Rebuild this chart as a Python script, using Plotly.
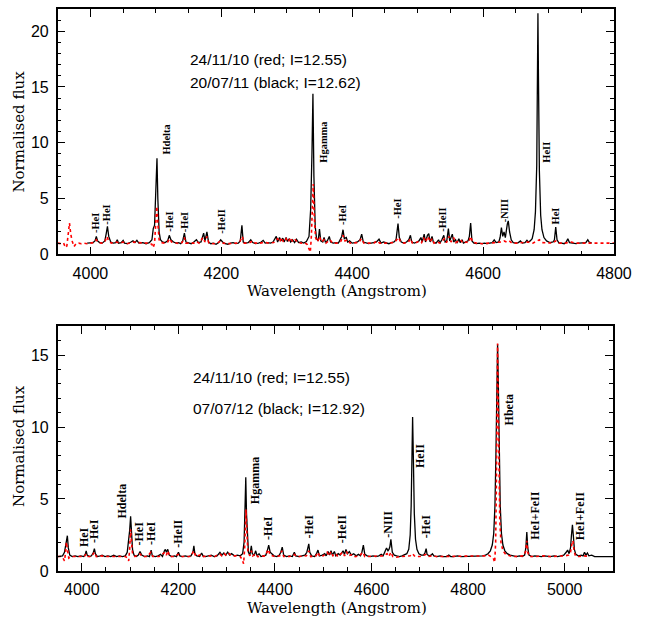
import plotly.graph_objects as go

# ---------------------------------------------------------------------------
# Spectra: (wavelength [A], normalised flux) pairs
# ---------------------------------------------------------------------------

# 24/11/10 spectrum (red), upper panel normalisation
red_top = [
    (3950, 1.0), (3955, 0.95), (3959, 1.0), (3962, 0.6), (3964, 0.75), (3966, 1.6),
    (3968, 2.8), (3970, 1.8), (3972, 1.2), (3975, 0.7), (3978, 0.95), (3982, 1.0),
    (3986, 0.95), (3990, 1.0), (3995, 0.95), (4000, 1.0), (4005, 1.05), (4009, 1.3),
    (4012, 1.05), (4017, 1.0), (4022, 1.1), (4025, 1.6), (4028, 1.2), (4032, 1.0),
    (4040, 1.1), (4045, 1.0), (4050, 1.1), (4056, 0.95), (4062, 1.05), (4067, 1.1),
    (4072, 1.05), (4078, 1.0), (4085, 1.0), (4090, 1.0), (4094, 0.9), (4096, 0.6),
    (4098, 1.0), (4100, 3.0), (4101.5, 4.3), (4103, 2.8), (4105, 1.3), (4108, 1.05),
    (4113, 1.0), (4118, 1.1), (4121, 1.4), (4124, 1.1), (4130, 1.0), (4136, 0.95),
    (4140, 1.05), (4143.5, 1.5), (4146, 1.0), (4152, 1.0), (4158, 1.0), (4162, 1.15),
    (4166, 1.0), (4172, 1.5), (4175, 1.1), (4178, 1.6), (4181, 1.0), (4188, 0.95),
    (4194, 1.0), (4199, 1.2), (4203, 1.0), (4210, 0.95), (4217, 1.0), (4224, 1.0),
    (4228, 1.1), (4232, 1.6), (4235, 1.0), (4242, 1.0), (4248, 1.2), (4252, 1.0),
    (4260, 1.0), (4266, 1.1), (4272, 1.0), (4280, 1.05), (4286, 1.4), (4289, 1.1),
    (4292, 1.5), (4295, 1.1), (4299, 1.4), (4302, 1.1), (4306, 1.5), (4309, 1.1),
    (4313, 1.3), (4317, 1.05), (4322, 1.0), (4327, 1.05), (4331, 0.9), (4334, 0.4),
    (4336, 0.2), (4337.5, 1.5), (4339, 4.5), (4340.5, 6.3), (4342, 3.5), (4344, 1.5),
    (4347, 1.1), (4350, 1.6), (4353, 1.1), (4357, 1.3), (4360, 1.0), (4366, 1.3),
    (4370, 1.0), (4378, 1.0), (4383, 1.2), (4386, 1.7), (4389, 1.2), (4393, 1.3),
    (4397, 1.0), (4404, 1.0), (4410, 1.05), (4414, 1.4), (4418, 1.0), (4426, 1.0),
    (4433, 1.0), (4438, 1.2), (4442, 1.0), (4450, 1.0), (4458, 1.0), (4464, 1.05),
    (4468, 1.3), (4471, 1.5), (4474, 1.1), (4480, 1.0), (4486, 1.1), (4489, 1.4),
    (4492, 1.0), (4498, 1.05), (4503, 1.2), (4506, 1.05), (4509, 1.5), (4512, 1.1),
    (4516, 1.6), (4519, 1.1), (4522, 1.4), (4525, 1.0), (4530, 1.1), (4534, 1.0),
    (4538, 1.2), (4541, 1.4), (4544, 1.05), (4548, 1.6), (4551, 1.1), (4555, 1.5),
    (4558, 1.05), (4562, 1.2), (4566, 1.3), (4569, 1.0), (4574, 1.1), (4578, 1.05),
    (4581, 1.6), (4584, 1.1), (4590, 1.0), (4600, 0.95), (4610, 1.0), (4618, 1.0),
    (4622, 1.05), (4628, 1.1), (4632, 1.2), (4636, 1.1), (4640, 1.2), (4644, 1.0),
    (4652, 1.0), (4660, 1.05), (4668, 1.1), (4676, 1.0), (4683, 1.2), (4686, 1.3),
    (4690, 1.05), (4698, 1.0), (4706, 1.0), (4711, 1.2), (4715, 1.0), (4725, 1.0),
    (4735, 1.1), (4740, 1.0), (4750, 1.0), (4760, 1.05), (4770, 1.0), (4780, 1.0),
    (4790, 1.0), (4800, 1.0),
]

# 20/07/11 spectrum (black), upper panel
black_top = [
    (3995, 1.0), (4000, 1.02), (4004, 1.05), (4007, 1.2), (4009, 1.6), (4011, 1.2),
    (4014, 1.05), (4018, 1.0), (4022, 1.2), (4024, 1.8), (4026, 2.5), (4028, 1.6),
    (4031, 1.1), (4035, 1.0), (4039, 1.05), (4041, 1.3), (4043, 1.0), (4047, 1.05),
    (4050, 1.25), (4052, 1.0), (4057, 0.95), (4062, 1.1), (4065, 1.2), (4068, 1.05),
    (4071, 1.25), (4074, 1.0), (4080, 1.05), (4085, 0.95), (4090, 1.05), (4094, 1.3),
    (4096, 2.3), (4098, 2.6), (4100, 5.5), (4101.7, 8.6), (4103, 5.0), (4105, 2.0),
    (4107, 1.3), (4110, 1.1), (4114, 1.05), (4118, 1.2), (4120.5, 1.7), (4123, 1.3),
    (4127, 1.1), (4131, 1.0), (4135, 1.05), (4138, 0.95), (4141, 1.2), (4143.6, 1.9),
    (4146, 1.1), (4150, 1.0), (4154, 0.95), (4158, 1.1), (4162, 1.3), (4165, 1.05),
    (4169, 1.1), (4173, 1.9), (4175, 1.2), (4178, 2.0), (4180.5, 1.1), (4184, 0.95),
    (4188, 1.0), (4192, 0.9), (4196, 1.05), (4199, 1.3), (4202, 1.1), (4206, 0.95),
    (4210, 0.9), (4214, 1.0), (4218, 1.05), (4222, 0.95), (4226, 1.0), (4229, 1.2),
    (4231.5, 2.6), (4233.5, 1.1), (4237, 1.0), (4241, 1.05), (4245, 1.3), (4248, 1.05),
    (4252, 0.95), (4257, 1.0), (4261, 1.1), (4264, 1.25), (4267, 1.0), (4271, 1.05),
    (4275, 1.0), (4279, 1.1), (4284, 1.6), (4286, 1.1), (4289, 1.5), (4291, 1.2),
    (4294, 1.45), (4296, 1.1), (4299, 1.5), (4301, 1.15), (4304, 1.4), (4306, 1.1),
    (4309, 1.3), (4312, 1.05), (4315, 1.35), (4318, 1.05), (4322, 1.1), (4326, 1.0),
    (4330, 1.15), (4334, 1.6), (4336.5, 4.0), (4338.5, 9.0), (4340, 14.4), (4341.5, 7.0),
    (4343.5, 2.5), (4345.5, 1.4), (4348, 1.2), (4350, 2.25), (4352, 1.2), (4355, 1.1),
    (4357, 1.5), (4359, 1.1), (4362, 1.2), (4365, 1.6), (4367, 1.1), (4371, 1.0),
    (4375, 1.05), (4379, 1.0), (4382, 1.3), (4384, 1.6), (4386, 2.2), (4388, 1.4),
    (4391, 1.5), (4393, 1.1), (4396, 1.2), (4400, 1.0), (4404, 1.05), (4408, 1.1),
    (4412, 1.3), (4414.5, 1.8), (4417, 1.1), (4421, 1.0), (4425, 0.95), (4429, 1.0),
    (4433, 1.05), (4437, 1.1), (4441, 1.35), (4444, 1.0), (4448, 1.1), (4452, 1.0),
    (4456, 0.95), (4460, 1.05), (4464, 1.1), (4467, 1.3), (4468.5, 2.0), (4470, 2.75),
    (4472, 1.5), (4475, 1.1), (4479, 1.0), (4483, 1.1), (4486.5, 1.3), (4489, 1.7),
    (4491, 1.1), (4495, 1.0), (4499, 1.1), (4502, 1.2), (4505, 1.5), (4507, 1.1),
    (4510, 1.8), (4512, 1.1), (4515, 1.7), (4517, 1.85), (4519, 1.1), (4522, 1.6),
    (4524, 1.1), (4528, 1.0), (4532, 1.3), (4534, 1.0), (4537, 1.3), (4540, 1.7),
    (4542, 1.1), (4544.5, 1.2), (4547, 2.3), (4549, 1.2), (4551, 1.5), (4553, 1.8),
    (4555, 1.1), (4558, 1.3), (4560, 1.0), (4563, 1.4), (4565, 1.05), (4568, 1.3),
    (4570, 1.0), (4574, 1.1), (4577, 1.2), (4579, 1.6), (4581, 2.8), (4583, 1.2),
    (4586, 1.0), (4590, 0.95), (4594, 1.0), (4598, 0.95), (4602, 1.0), (4606, 0.95),
    (4610, 1.0), (4614, 1.05), (4617, 1.3), (4620, 1.05), (4624, 1.1), (4626, 1.5),
    (4628, 2.4), (4630, 1.6), (4632, 2.0), (4634, 1.5), (4637, 2.7), (4638.5, 3.0),
    (4640.5, 2.0), (4643, 1.3), (4646, 1.05), (4650, 1.0), (4654, 1.05), (4657, 1.2),
    (4660, 1.0), (4664, 1.05), (4667, 1.25), (4669, 1.1), (4672, 1.2), (4675, 1.4),
    (4678, 2.2), (4680, 3.8), (4682, 8.0), (4683, 16.0), (4683.8, 21.6), (4684.6, 16.0),
    (4686, 7.5), (4688, 3.5), (4690, 2.2), (4693, 1.5), (4697, 1.2), (4702, 1.05),
    (4707, 1.1), (4709, 1.3), (4711, 2.45), (4713, 1.3), (4716, 1.0), (4720, 1.0),
    (4724, 0.95), (4727, 1.1), (4729.5, 1.4), (4732, 1.05), (4737, 1.0), (4742, 0.95),
    (4747, 1.0), (4752, 1.0), (4757, 1.05), (4760, 1.3), (4762, 1.1), (4766, 1.0),
]

# 24/11/10 spectrum (red), lower panel normalisation
red_bottom = [
    (3950, 1.0), (3956, 1.0), (3961, 0.9), (3964, 0.7), (3966, 1.2), (3968, 2.0),
    (3970, 1.5), (3973, 0.9), (3977, 1.0), (3985, 1.0), (3995, 1.0), (4005, 1.0),
    (4009, 1.2), (4013, 1.0), (4020, 1.0), (4026, 1.3), (4030, 1.0), (4040, 1.05),
    (4050, 1.0), (4060, 1.0), (4070, 1.05), (4080, 1.0), (4090, 1.0), (4095, 0.9),
    (4097, 0.7), (4099, 1.5), (4101, 2.9), (4103, 1.9), (4105, 1.2), (4110, 1.0),
    (4120, 1.2), (4125, 1.0), (4135, 1.0), (4143, 1.3), (4147, 1.0), (4160, 1.0),
    (4172, 1.3), (4175, 1.1), (4178, 1.4), (4182, 1.0), (4190, 1.0), (4200, 1.15),
    (4205, 1.0), (4215, 1.0), (4225, 1.0), (4232, 1.4), (4236, 1.0), (4248, 1.15),
    (4252, 1.0), (4265, 1.05), (4275, 1.0), (4285, 1.2), (4290, 1.05), (4295, 1.2),
    (4300, 1.05), (4305, 1.2), (4310, 1.05), (4320, 1.05), (4328, 1.0), (4332, 0.8),
    (4335, 0.5), (4337, 1.5), (4339, 3.5), (4340, 4.27), (4342, 2.5), (4344, 1.3),
    (4348, 1.05), (4351, 1.4), (4354, 1.05), (4360, 1.2), (4364, 1.0), (4372, 1.0),
    (4380, 1.05), (4386, 1.5), (4390, 1.1), (4400, 1.0), (4410, 1.05), (4414, 1.4),
    (4418, 1.0), (4430, 1.0), (4440, 1.15), (4445, 1.0), (4455, 1.0), (4465, 1.05),
    (4470, 1.4), (4474, 1.0), (4485, 1.05), (4489, 1.3), (4493, 1.0), (4500, 1.05),
    (4508, 1.3), (4512, 1.05), (4516, 1.35), (4520, 1.05), (4526, 1.2), (4530, 1.0),
    (4540, 1.3), (4544, 1.05), (4548, 1.35), (4552, 1.05), (4560, 1.15), (4566, 1.0),
    (4575, 1.05), (4582, 1.3), (4586, 1.0), (4595, 1.0), (4605, 1.0), (4615, 1.0),
    (4622, 1.05), (4628, 1.1), (4632, 1.2), (4636, 1.0), (4640, 1.3), (4644, 1.0),
    (4652, 0.95), (4660, 1.0), (4670, 1.0), (4680, 1.05), (4685, 1.2), (4690, 1.0),
    (4700, 1.0), (4712, 1.15), (4716, 1.0), (4725, 1.05), (4735, 1.0), (4745, 1.0),
    (4755, 1.05), (4765, 1.0), (4775, 1.0), (4785, 1.05), (4795, 1.0), (4805, 1.0),
    (4815, 1.05), (4825, 1.0), (4835, 1.05), (4842, 1.1), (4848, 1.0), (4852, 0.9),
    (4855, 0.6), (4857, 2.0), (4858.5, 6.0), (4860, 12.0), (4861, 15.8), (4862, 12.5),
    (4863.5, 7.0), (4865.5, 3.5), (4868, 2.0), (4872, 1.4), (4878, 1.15), (4886, 1.05),
    (4895, 1.0), (4905, 1.0), (4915, 1.05), (4919.5, 1.4), (4921.5, 2.1), (4923.5, 1.3),
    (4927, 1.0), (4940, 1.0), (4955, 1.05), (4970, 1.0), (4985, 1.0), (5000, 1.05),
    (5008, 1.1), (5012, 1.3), (5015, 1.9), (5017, 2.1), (5019, 1.5), (5022, 1.05),
    (5030, 1.0), (5040, 1.05), (5050, 1.0),
]

# 07/07/12 spectrum (black), lower panel
black_bottom = [
    (3950, 1.0), (3955, 1.0), (3960, 1.05), (3964, 1.3), (3967, 1.9), (3970, 2.45),
    (3972, 1.6), (3975, 1.1), (3980, 1.0), (3986, 1.05), (3992, 1.0), (3998, 1.05),
    (4004, 1.0), (4007, 1.15), (4009, 1.4), (4011, 1.1), (4016, 1.0), (4020, 1.05),
    (4024, 1.3), (4026, 1.55), (4028, 1.2), (4032, 1.0), (4038, 1.05), (4042, 1.1),
    (4048, 1.0), (4054, 1.05), (4060, 1.0), (4066, 1.1), (4072, 1.0), (4078, 1.05),
    (4084, 1.0), (4090, 1.05), (4094, 1.3), (4097, 2.0), (4099, 2.8), (4101, 3.8),
    (4103, 2.6), (4105, 1.5), (4108, 1.1), (4113, 1.0), (4117, 1.1), (4120.5, 1.35),
    (4124, 1.1), (4130, 1.0), (4136, 1.05), (4140, 1.0), (4143.5, 1.45), (4146, 1.05),
    (4152, 1.0), (4158, 1.05), (4163, 1.15), (4167, 1.0), (4171, 1.4), (4173, 1.5),
    (4175, 1.3), (4178, 1.5), (4181, 1.1), (4186, 1.0), (4192, 1.05), (4196, 1.0),
    (4200, 1.3), (4203, 1.05), (4208, 1.0), (4214, 1.05), (4220, 1.0), (4226, 1.05),
    (4230, 1.3), (4232, 1.75), (4234, 1.2), (4238, 1.05), (4244, 1.0), (4248, 1.25),
    (4251, 1.05), (4256, 1.0), (4262, 1.05), (4268, 1.1), (4274, 1.0), (4280, 1.05),
    (4286, 1.3), (4290, 1.1), (4294, 1.25), (4298, 1.1), (4302, 1.3), (4306, 1.1),
    (4310, 1.2), (4316, 1.05), (4322, 1.1), (4328, 1.05), (4333, 1.2), (4336, 2.0),
    (4338, 4.5), (4339.5, 6.5), (4341, 4.0), (4343, 2.0), (4345, 1.3), (4348, 1.1),
    (4351, 1.75), (4353, 1.2), (4357, 1.1), (4360, 1.4), (4363, 1.05), (4367, 1.2),
    (4371, 1.0), (4376, 1.05), (4381, 1.1), (4384, 1.4), (4387, 1.8), (4390, 1.3),
    (4394, 1.2), (4398, 1.05), (4404, 1.0), (4409, 1.1), (4412, 1.3), (4415, 1.65),
    (4418, 1.1), (4424, 1.0), (4430, 1.05), (4436, 1.0), (4440, 1.3), (4443, 1.05),
    (4450, 1.0), (4456, 1.05), (4462, 1.1), (4466, 1.3), (4468, 1.6), (4470, 1.88),
    (4472, 1.3), (4476, 1.05), (4482, 1.0), (4486, 1.2), (4489, 1.45), (4492, 1.05),
    (4498, 1.1), (4503, 1.2), (4506, 1.05), (4510, 1.35), (4513, 1.1), (4516, 1.4),
    (4519, 1.1), (4523, 1.35), (4526, 1.05), (4531, 1.2), (4535, 1.1), (4538, 1.3),
    (4541, 1.4), (4544, 1.15), (4547, 1.5), (4550, 1.2), (4554, 1.35), (4558, 1.1),
    (4563, 1.2), (4568, 1.05), (4573, 1.15), (4577, 1.05), (4580, 1.3), (4583, 1.8),
    (4586, 1.15), (4591, 1.05), (4597, 1.0), (4603, 1.05), (4609, 1.0), (4615, 1.05),
    (4620, 1.15), (4624, 1.05), (4628, 1.4), (4631, 1.6), (4634, 1.4), (4636, 1.5),
    (4638, 1.7), (4640, 2.2), (4643, 1.3), (4647, 1.1), (4652, 1.05), (4658, 1.0),
    (4663, 1.05), (4668, 1.1), (4673, 1.2), (4677, 1.5), (4680, 2.5), (4682, 4.5),
    (4684, 8.5), (4685, 10.7), (4686.5, 8.0), (4688.5, 4.0), (4691, 2.2), (4694, 1.5),
    (4698, 1.2), (4703, 1.1), (4708, 1.1), (4711, 1.3), (4713, 1.55), (4715, 1.15),
    (4719, 1.05), (4723, 1.1), (4726, 1.2), (4729, 1.05), (4735, 1.0), (4742, 1.05),
    (4748, 1.0), (4755, 1.0), (4760, 1.1), (4764, 1.0), (4770, 1.0), (4778, 1.05),
    (4785, 1.0), (4792, 1.0), (4800, 1.05), (4806, 1.0), (4812, 1.0), (4818, 1.05),
    (4824, 1.0), (4830, 1.05), (4836, 1.1), (4841, 1.2), (4846, 1.4), (4850, 1.8),
    (4853, 2.6), (4855.5, 4.5), (4857.5, 8.0), (4859.5, 13.0), (4861, 15.75),
    (4862.5, 13.0), (4864.5, 8.0), (4866.5, 4.5), (4869, 2.6), (4872, 1.8), (4876, 1.4),
    (4881, 1.2), (4887, 1.1), (4894, 1.05), (4900, 1.0), (4906, 1.05), (4912, 1.0),
    (4917, 1.1), (4919.5, 1.6), (4921.5, 2.7), (4923.5, 1.6), (4926, 1.1), (4932, 1.0),
    (4938, 1.05), (4945, 1.0), (4952, 1.0), (4958, 1.05), (4964, 1.0), (4970, 1.0),
    (4978, 1.05), (4985, 1.0), (4992, 1.05), (4998, 1.1), (5003, 1.3), (5006, 1.45),
    (5009, 1.2), (5012, 1.6), (5014, 2.5), (5016, 3.2), (5018, 2.4), (5020, 1.5),
    (5023, 1.15), (5028, 1.05), (5034, 1.1), (5038, 1.05), (5041, 1.3), (5044, 1.1),
    (5047, 1.25), (5050, 1.05), (5056, 1.1), (5062, 1.0), (5070, 1.0), (5078, 1.0),
    (5086, 1.0), (5094, 1.0), (5100, 1.0),
]

# Line identifications: (label, wavelength of label, flux at foot of label)
lines_top = [
    ("-HeI", 4007.5, 1.75), ("-HeI", 4025, 2.45), ("Hdelta", 4117, 8.8),
    ("-HeI", 4121, 1.8), ("-HeI", 4143, 1.8), ("-HeII", 4200, 1.65),
    ("Hgamma", 4355, 8.0), ("-HeI", 4386, 2.45), ("-HeI", 4470, 3.0),
    ("-HeII", 4539, 1.8), ("-NIII", 4633, 2.7), ("HeII", 4696.5, 8.0),
    ("HeI", 4710, 2.45),
]
lines_bottom = [
    ("HeI", 4006, 1.5), ("-HeI", 4025, 1.8), ("Hdelta", 4084, 3.5),
    ("-HeI", 4119, 1.65), ("-HeI", 4143, 1.65), ("-HeII", 4198.5, 1.45),
    ("Hgamma", 4357.6, 4.5), ("-HeI", 4385, 2.0), ("-HeI", 4470, 2.1),
    ("-HeII", 4539, 1.8), ("-NIII", 4634, 2.2), ("HeII", 4700, 7.0),
    ("-HeI", 4712, 2.1), ("Hbeta", 4884.5, 10.0), ("HeI+FeII", 4939.7, 2.0),
    ("HeI+FeII", 5032, 2.0),
]

epoch_text_top = ["24/11/10 (red; I=12.55)", "20/07/11 (black; I=12.62)"]
epoch_text_bottom = ["24/11/10 (red; I=12.55)", "07/07/12 (black; I=12.92)"]

x_label = "Wavelength (Angstrom)"
y_label = "Normalised flux"


def split(pairs):
    return [p[0] for p in pairs], [p[1] for p in pairs]


W, H = 667, 625
RED = "#ff0000"

fig = go.Figure()

for pairs, color, dash, width, xa, ya in [
    (black_top, "black", "solid", 1.3, "x", "y"),
    (red_top, RED, "dot", 1.6, "x", "y"),
    (black_bottom, "black", "solid", 1.3, "x2", "y2"),
    (red_bottom, RED, "dot", 1.6, "x2", "y2"),
]:
    wl, fl = split(pairs)
    fig.add_trace(go.Scatter(
        x=wl, y=fl, mode="lines", xaxis=xa, yaxis=ya,
        line=dict(color=color, width=width, dash=dash),
        hoverinfo="skip", showlegend=False,
    ))

tick_font = dict(family="Liberation Sans, Arial, sans-serif", size=16, color="black")


def axis_style(rng, dtick, minor_dtick, domain, anchor, tick0=None, standoff=4):
    d = dict(
        range=rng, domain=domain, anchor=anchor,
        showline=True, linecolor="black", linewidth=1.5, mirror="ticks",
        ticks="inside", ticklen=8, tickwidth=1.2, tickcolor="black",
        dtick=dtick, showgrid=False, zeroline=False, tickfont=tick_font,
        ticklabelstandoff=standoff,
        minor=dict(ticks="inside", ticklen=4, tickwidth=1, tickcolor="black",
                   dtick=minor_dtick, showgrid=False),
    )
    if tick0 is not None:
        d["tick0"] = tick0
        d["minor"]["tick0"] = tick0
    return d


px_x = lambda p: p / W
px_y = lambda p: 1 - p / H

fig.update_layout(
    width=W, height=H,
    margin=dict(l=0, r=0, t=0, b=0),
    paper_bgcolor="white", plot_bgcolor="white",
    showlegend=False,
    xaxis=axis_style([3950, 4800], 200, 50, [px_x(59.3), px_x(631)], "y", tick0=4000),
    yaxis=axis_style([0, 22], 5, 1, [px_y(258), px_y(9)], "x", tick0=0),
    xaxis2=axis_style([3950, 5100], 200, 50, [px_x(59.3), px_x(630)], "y2", tick0=4000,
                      standoff=3),
    yaxis2=axis_style([0, 17], 5, 1, [px_y(579.3), px_y(331)], "x2", tick0=0),
)

annotations = []
label_font_top = dict(family="Liberation Serif, Times New Roman, serif", size=10.5, color="black")
label_font_bottom = dict(family="Liberation Serif, Times New Roman, serif", size=12, color="black")

for (txt, wl, fl), xr, yr, font in (
    [(l, "x", "y", label_font_top) for l in lines_top]
    + [(l, "x2", "y2", label_font_bottom) for l in lines_bottom]
):
    annotations.append(dict(
        text="<b>%s</b>" % txt, x=wl, y=fl, xref=xr, yref=yr,
        textangle=-90, xanchor="center", yanchor="bottom",
        showarrow=False, font=font,
    ))

epoch_font = dict(family="Liberation Sans, Arial, sans-serif", size=15.5, color="black")
for txt, yc in zip(epoch_text_top, [60, 84]):
    annotations.append(dict(text=txt, x=px_x(193), y=px_y(yc), xref="paper", yref="paper",
                            xanchor="left", yanchor="middle", showarrow=False, font=epoch_font))
for txt, yc in zip(epoch_text_bottom, [383, 414]):
    annotations.append(dict(text=txt, x=px_x(196), y=px_y(yc), xref="paper", yref="paper",
                            xanchor="left", yanchor="middle", showarrow=False, font=epoch_font))

title_font = dict(family="DejaVu Serif, serif", size=15, color="black")
for yc in [295, 617]:
    annotations.append(dict(text=x_label, x=px_x(346), y=px_y(yc), xref="paper", yref="paper",
                            xanchor="center", yanchor="middle", showarrow=False, font=title_font))
for yc in [133, 452]:
    annotations.append(dict(text=y_label, x=px_x(20), y=px_y(yc), xref="paper", yref="paper",
                            xanchor="center", yanchor="middle", textangle=-90,
                            showarrow=False, font=title_font))

fig.update_layout(annotations=annotations)

# keep the page exactly the size of the figure (no body margin, no scrollbars)
page_css = (
    "document.documentElement.style.margin='0';"
    "document.documentElement.style.overflow='hidden';"
    "document.body.style.margin='0';"
    "document.body.style.overflow='hidden';"
)

fig.write_html("out.html", post_script=page_css)
